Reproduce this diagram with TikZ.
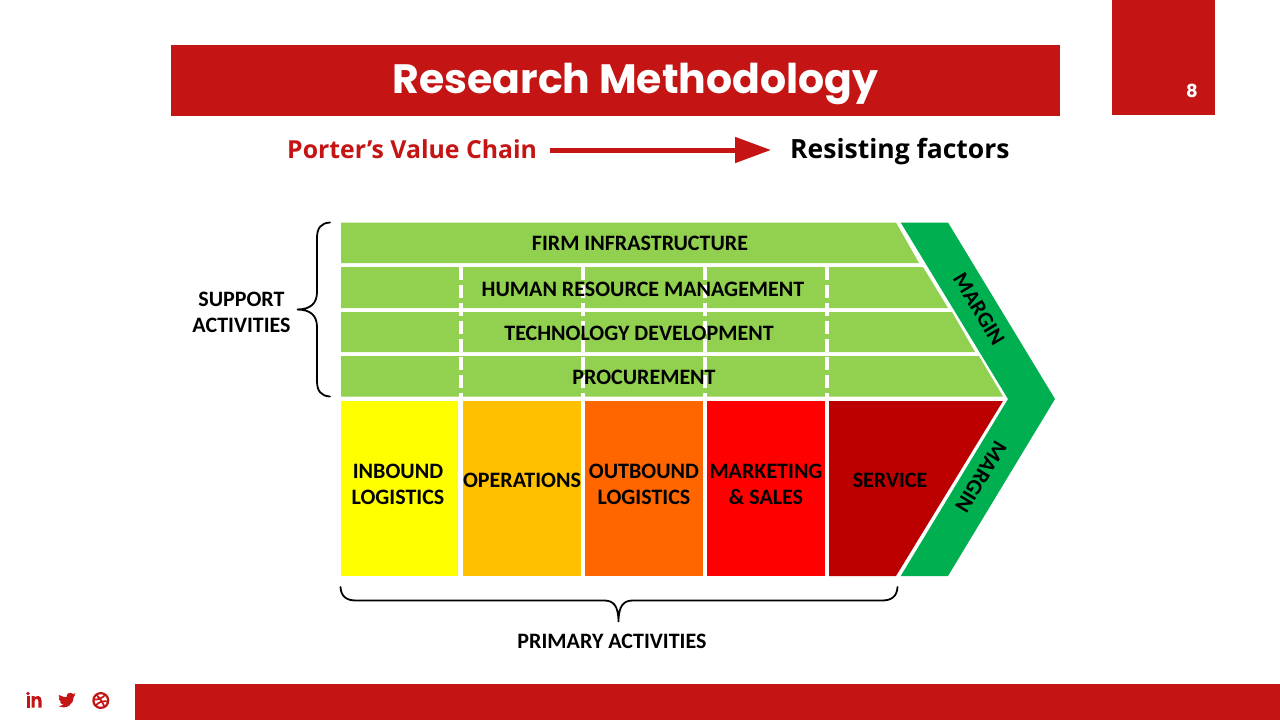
\documentclass[tikz,border=0pt]{standalone}
\usepackage{fontspec}
\usetikzlibrary{arrows.meta}
\setmainfont{Carlito}
\newfontfamily\titlefont{Poppins}
\newfontfamily\headfont{Open Sans}
\definecolor{barred}{HTML}{C41414}
\definecolor{lgreen}{HTML}{92D050}
\definecolor{dgreen}{HTML}{00B050}
\definecolor{cyellow}{HTML}{FFFF00}
\definecolor{corange}{HTML}{FFC000}
\definecolor{cdorange}{HTML}{FF6600}
\definecolor{cred}{HTML}{FF0000}
\definecolor{cdred}{HTML}{BC0000}
\tikzset{
  lab/.style={font=\fontsize{22}{26}\selectfont\bfseries,text=black,align=center,inner sep=0pt},
  headlab/.style={font=\headfont\bfseries,inner sep=0pt,anchor=base west},
  divider/.style={draw=white,line width=4pt,dash pattern=on 13pt off 5pt},
  bracket/.style={draw=black,line width=1.8pt,line cap=round},
  icon/.style={fill=barred,draw=none}
}
\begin{document}
\begin{tikzpicture}[x=1pt,y=-1pt]
\useasboundingbox (0,0) rectangle (1280,720);
\fill[white] (0,0) rectangle (1280,720);
% bars
\fill[barred] (171,45) rectangle (1060,116);
\fill[barred] (1112,0) rectangle (1215,115);
\fill[barred] (135,683.5) rectangle (1280,720);
\node[font=\titlefont\fontsize{41}{48}\selectfont\bfseries,text=white,inner sep=0pt] (title) at (635.5,84) {Research Methodology};
\node[font=\titlefont\fontsize{18}{21}\selectfont\bfseries,text=white,inner sep=0pt] (pagenum) at (1192,91) {8};
% heading
\node[headlab,text=barred,font=\headfont\fontsize{24.8}{30}\selectfont\bfseries] (porter) at (287,158) {Porter’s Value Chain};
\node[headlab,text=black,font=\headfont\fontsize{26.5}{30}\selectfont\bfseries] (resist) at (790,158) {Resisting factors};
\draw[barred,line width=5pt,-{Triangle[length=36pt,width=25pt]},shorten <=13pt,shorten >=19pt] (porter.east |- 0,150) -- (resist.west |- 0,150);
% support rows
\fill[lgreen] (341,222.5) -- (896,222.5) -- (919,263) -- (341,263) -- cycle;
\fill[lgreen] (341,267) -- (923,267) -- (948,308) -- (341,308) -- cycle;
\fill[lgreen] (341,312) -- (952,312) -- (975,352) -- (341,352) -- cycle;
\fill[lgreen] (341,356) -- (979,356) -- (1003,396.5) -- (341,396.5) -- cycle;
\foreach \x in {460.5,582.5,705,827} \draw[divider] (\x,267) -- (\x,397);
% primary
\fill[cyellow] (341,401) rectangle (458,576);
\fill[corange] (462.5,401) rectangle (580.5,576);
\fill[cdorange] (585,401) rectangle (703,576);
\fill[cred] (707,401) rectangle (825,576);
\fill[cdred] (829,401) -- (1003,401) -- (896,576) -- (829,576) -- cycle;
% margin
\fill[dgreen] (900.7,222.5) -- (948,222.5) -- (1055,399) -- (948,576) -- (900.7,576) -- (1008,399) -- cycle;
% labels
\node[lab] (firm) at (640,243) {FIRM INFRASTRUCTURE};
\node[lab] (hrm) at (643,289) {HUMAN RESOURCE MANAGEMENT};
\node[lab] (tech) at (639,333) {TECHNOLOGY DEVELOPMENT};
\node[lab] (proc) at (644,377) {PROCUREMENT};
\node[lab] (inb) at (398,484) {INBOUND\\LOGISTICS};
\node[lab] (ops) at (522,480) {OPERATIONS};
\node[lab] (outb) at (644,484) {OUTBOUND\\LOGISTICS};
\node[lab] (mkt) at (766,484) {MARKETING\\\& SALES};
\node[lab] (svc) at (890,480) {SERVICE};
\node[lab,rotate=-58.8] (m1) at (979,309) {MARGIN};
\node[lab,rotate=-121.2] (m2) at (981,477) {MARGIN};
\node[lab] (sup) at (241.5,312) {SUPPORT\\ACTIVITIES};
\node[lab] (prim) at (612,641) {PRIMARY ACTIVITIES};
% brackets
\draw[bracket] (330,222.5) .. controls (321,223) and (317,228) .. (317,238) -- (317,292)
  .. controls (317,303) and (311,309.5) .. (297,309.5)
  .. controls (311,309.5) and (317,316) .. (317,327) -- (317,381)
  .. controls (317,391) and (321,396) .. (330,396.5);
\draw[bracket] (340.5,587) .. controls (341,596) and (346,600.5) .. (356,600.5) -- (604,600.5)
  .. controls (613,600.5) and (618.5,605) .. (618.5,622)
  .. controls (618.5,605) and (624,600.5) .. (633,600.5) -- (882,600.5)
  .. controls (892,600.5) and (897,596) .. (897.5,587);
% linkedin icon
\fill[icon] (26.5,696) rectangle (29.5,707.5);
\fill[icon] (28,693.5) circle (1.9);
\fill[icon] (31.5,696) -- (34.5,696) -- (34.5,697.6) .. controls (36,695.5) and (41.5,694.8) .. (41.5,700.5) -- (41.5,707.5) -- (38.4,707.5) -- (38.4,701.5) .. controls (38.4,697.8) and (34.6,698) .. (34.6,701.5) -- (34.6,707.5) -- (31.5,707.5) -- cycle;
% twitter icon
\fill[icon] (59,695) .. controls (62,696.5) and (64.5,697.3) .. (66.5,697.2)
  .. controls (66,693) and (71,691.5) .. (73,694)
  .. controls (74,694) and (74.5,693.5) .. (75.5,693.2)
  .. controls (75.2,694.3) and (74.7,695) .. (74,695.5)
  .. controls (74.7,695.4) and (75,695.2) .. (75,695.2)
  .. controls (74.5,696) and (74,696.5) .. (73.7,697)
  .. controls (74,703) and (67,710.5) .. (58.5,706)
  .. controls (60.5,706) and (62,705.5) .. (63.5,704.5)
  .. controls (61.5,704.3) and (60.5,703) .. (60,701.8)
  .. controls (60.5,701.8) and (61,701.8) .. (61.5,701.6)
  .. controls (59.5,701) and (58.8,699.5) .. (58.8,698)
  .. controls (59.2,698.2) and (59.7,698.4) .. (60.3,698.4)
  .. controls (58.8,697.4) and (58.5,696.3) .. (59,695) -- cycle;
% dribbble icon
\draw[barred,line width=2.2pt] (100.8,700.5) circle (7.4);
\draw[barred,line width=1.7pt] (96,694.5) .. controls (100,698) and (103,703) .. (104.5,707);
\draw[barred,line width=1.7pt] (93.3,699.5) .. controls (98,700) and (103,698) .. (105.5,694.5);
\draw[barred,line width=1.7pt] (95.5,706) .. controls (98,702) and (103,700.5) .. (108.2,701.5);
\end{tikzpicture}
\end{document}
